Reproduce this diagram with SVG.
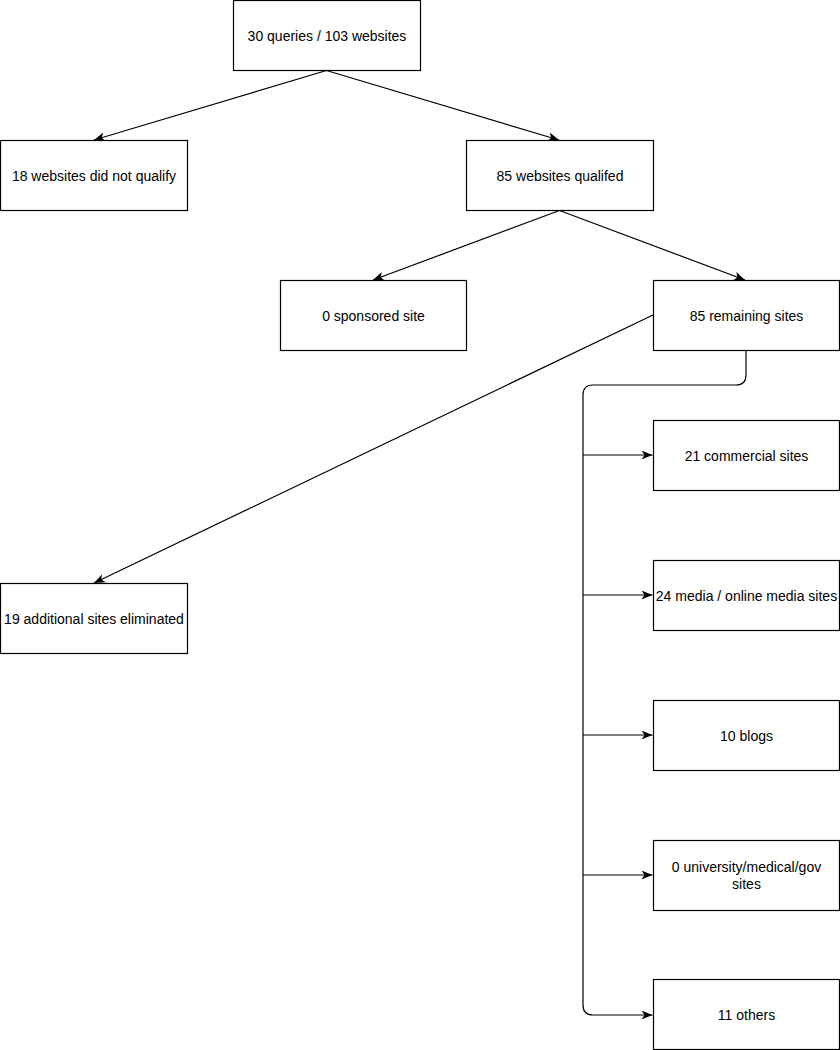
<svg xmlns="http://www.w3.org/2000/svg" width="840" height="1050" viewBox="0 0 840 1050">
<style>
.box{fill:#fff;stroke:#000;stroke-width:1.2}
.t{font-family:"Liberation Sans",Arial,sans-serif;font-size:14px;fill:#000;text-anchor:middle;dominant-baseline:central}
.c{fill:none;stroke:#000;stroke-width:1.2}
</style>
<defs>
<marker id="ah" markerWidth="12" markerHeight="10" refX="11" refY="5" orient="auto" markerUnits="userSpaceOnUse">
<path d="M0,0.5 L11,5 L0,9.5 L3,5 Z" fill="#000"/>
</marker>
</defs>
<rect width="840" height="1050" fill="#fff"/>
<g id="connectors">
<path class="c" d="M326.5,70.5 L94,140" marker-end="url(#ah)"/>
<path class="c" d="M326.5,70.5 L559,140" marker-end="url(#ah)"/>
<path class="c" d="M559.5,210.5 L373,280" marker-end="url(#ah)"/>
<path class="c" d="M559.5,210.5 L745,280" marker-end="url(#ah)"/>
<path class="c" d="M653,315 L94,583" marker-end="url(#ah)"/>
<path class="c" d="M746,350 L746,375 Q746,385 736,385 L593,385 Q583,385 583,395 L583,1005 Q583,1015 593,1015 L652.5,1015" marker-end="url(#ah)"/>
<path class="c" d="M583,455 L652.5,455" marker-end="url(#ah)"/>
<path class="c" d="M583,595 L652.5,595" marker-end="url(#ah)"/>
<path class="c" d="M583,735 L652.5,735" marker-end="url(#ah)"/>
<path class="c" d="M583,875 L652.5,875" marker-end="url(#ah)"/>
</g>
<g id="n1"><rect class="box" x="233.5" y="0.5" width="187" height="70"/><text class="t" x="327" y="35.5">30 queries / 103 websites</text></g>
<g id="n2"><rect class="box" x="0.5" y="140.5" width="187" height="70"/><text class="t" x="94" y="175.5">18 websites did not qualify</text></g>
<g id="n3"><rect class="box" x="466.5" y="140.5" width="187" height="70"/><text class="t" x="560" y="175.5">85 websites qualifed</text></g>
<g id="n4"><rect class="box" x="280.5" y="280.5" width="186" height="70"/><text class="t" x="373.5" y="315.5">0 sponsored site</text></g>
<g id="n5"><rect class="box" x="653.5" y="280.5" width="186" height="70"/><text class="t" x="746.5" y="315.5">85 remaining sites</text></g>
<g id="n6"><rect class="box" x="0.5" y="583.5" width="187" height="70"/><text class="t" x="94" y="618.5">19 additional sites eliminated</text></g>
<g id="n7"><rect class="box" x="653.5" y="420.5" width="186" height="70"/><text class="t" x="746.5" y="455.5">21 commercial sites</text></g>
<g id="n8"><rect class="box" x="653.5" y="560.5" width="186" height="70"/><text class="t" x="746.5" y="595.5">24 media / online media sites</text></g>
<g id="n9"><rect class="box" x="653.5" y="700.5" width="186" height="70"/><text class="t" x="746.5" y="735.5">10 blogs</text></g>
<g id="n10"><rect class="box" x="653.5" y="840.5" width="186" height="70"/><text class="t" x="746.5" y="867">0 university/medical/gov</text><text class="t" x="746.5" y="884">sites</text></g>
<g id="n11"><rect class="box" x="653.5" y="979.5" width="186" height="70"/><text class="t" x="746.5" y="1014.5">11 others</text></g>
</svg>
